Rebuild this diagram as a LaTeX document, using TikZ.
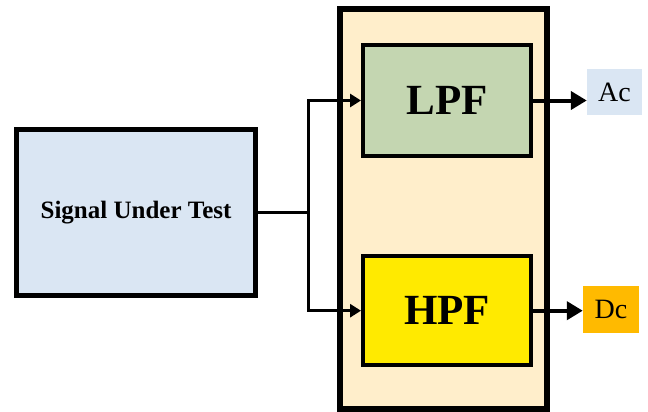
\documentclass[tikz,border=0pt]{standalone}
\usepackage{fontspec}
\setmainfont{Liberation Serif}
\usetikzlibrary{arrows.meta}

\definecolor{sigblue}{HTML}{DAE6F3}
\definecolor{sandbg}{HTML}{FFEECB}
\definecolor{lpfgreen}{HTML}{C4D6B1}
\definecolor{hpfyellow}{HTML}{FFEA00}
\definecolor{dcgold}{HTML}{FFBA00}

\tikzset{
  blockbox/.style={draw=black, line width=4pt, inner sep=0pt, anchor=center},
  outbox/.style={inner sep=0pt, anchor=center},
  feed/.style={draw=black, line width=3pt},
  feedarrow/.style={feed, -{Triangle[length=11pt,width=13pt]}},
  outarrow/.style={draw=black, line width=4pt, -{Triangle[length=16pt,width=18pt]}},
}

\begin{document}
\begin{tikzpicture}[x=1pt,y=-1pt]
  \useasboundingbox (0,0) rectangle (648,412);

  % filter bank enclosure
  \node[blockbox, line width=5.5pt, fill=sandbg, minimum width=207pt, minimum height=400pt]
    (bank) at (443.3,209) {};

  % source block
  \node[blockbox, line width=5pt, fill=sigblue, minimum width=239pt, minimum height=166pt]
    (sig) at (136,212.5) {\fontsize{25}{25}\selectfont\bfseries Signal Under Test};

  % filters
  \node[blockbox, fill=lpfgreen, minimum width=168pt, minimum height=110pt]
    (lpf) at (447,100.5) {\fontsize{43}{43}\selectfont\bfseries LPF};
  \node[blockbox, fill=hpfyellow, minimum width=168pt, minimum height=109.5pt]
    (hpf) at (447,310.7) {\fontsize{43}{43}\selectfont\bfseries HPF};

  % outputs
  \node[outbox, fill=sigblue, minimum width=55pt, minimum height=46pt]
    (ac) at (614.5,92) {\fontsize{28}{28}\selectfont Ac};
  \node[outbox, fill=dcgold, minimum width=56pt, minimum height=47pt]
    (dc) at (611,309.5) {\fontsize{28}{28}\selectfont Dc};

  % signal split
  \coordinate (split) at (308,212.5);
  \draw[feed] (sig.east) -- (split);
  \draw[feedarrow] (split) |- (lpf.west);
  \draw[feedarrow] (split) |- (hpf.west);

  % filter outputs
  \draw[outarrow] (lpf.east) -- (lpf.east -| ac.west);
  \draw[outarrow] (hpf.east) -- (hpf.east -| dc.west);
\end{tikzpicture}
\end{document}
